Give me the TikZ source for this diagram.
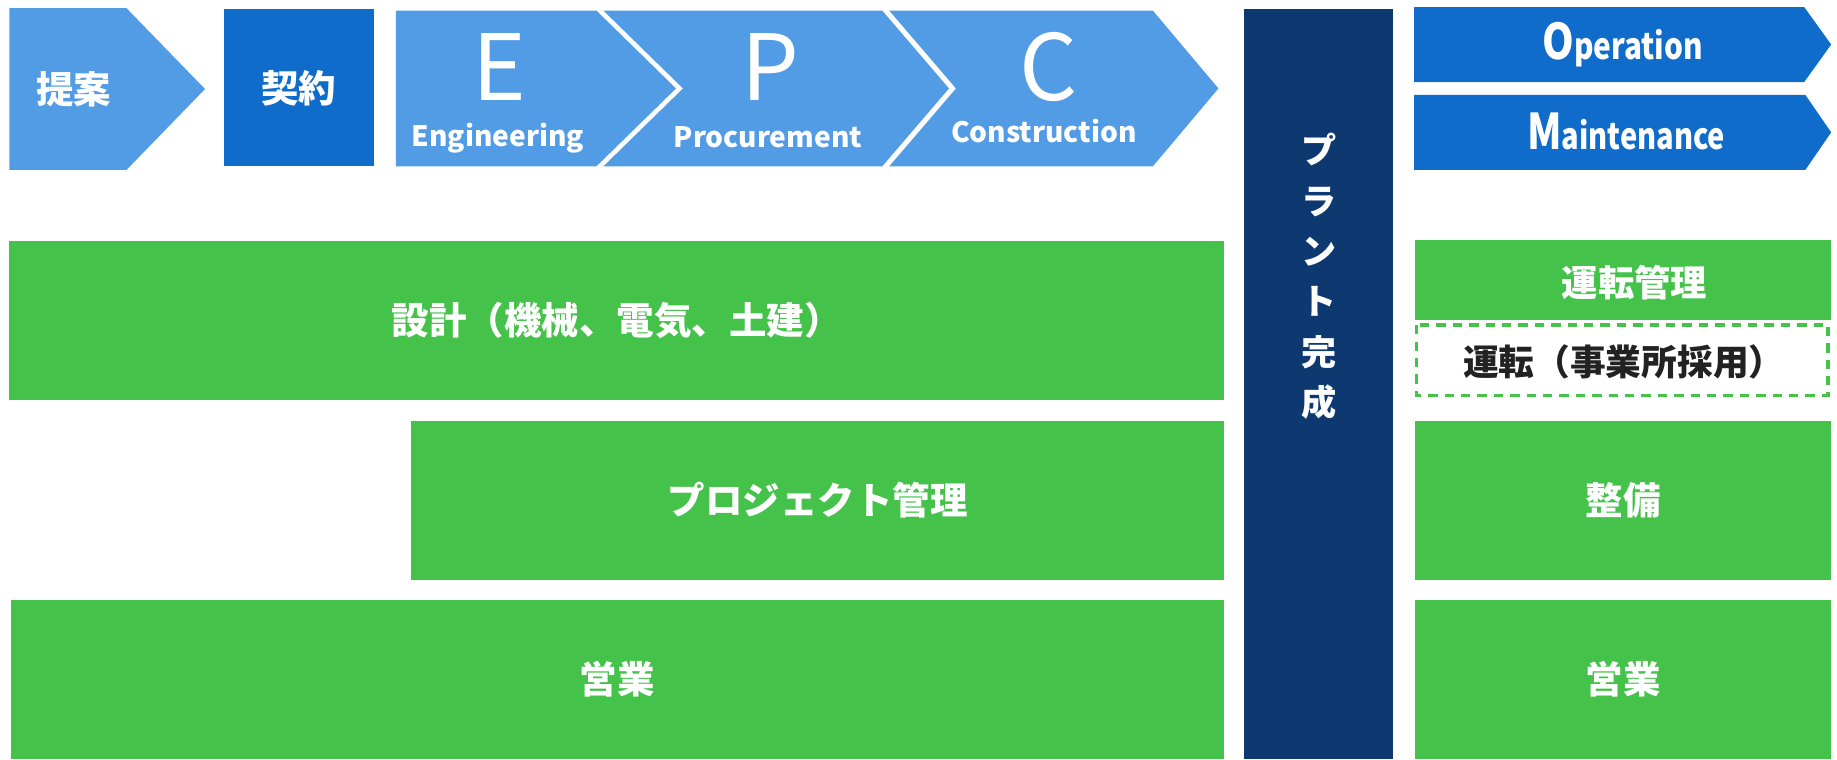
\documentclass[tikz,border=0pt]{standalone}
\usepackage{fontspec}
\setmainfont{Noto Sans CJK JP}

\definecolor{skyblue}{HTML}{529CE6}
\definecolor{midblue}{HTML}{0F6CCA}
\definecolor{navy}{HTML}{0E3870}
\definecolor{leaf}{HTML}{44C24A}
\definecolor{ink}{HTML}{222222}

\begin{document}
\begin{tikzpicture}[x=1pt,y=-1pt,
    lbl/.style={text=white, inner sep=0pt, font=\fontsize{32}{36}\selectfont\bfseries},
    gbox/.style={fill=leaf, inner sep=0pt, outer sep=0pt, lbl},
    big/.style={text=white, inner sep=0pt, anchor=base, font=\fontsize{78}{78}\selectfont},
    word/.style={text=white, inner sep=0pt, anchor=base, font=\fontsize{24}{24}\selectfont\bfseries},
    om/.style={text=white, inner sep=0pt, anchor=base, font=\bfseries}]
    \useasboundingbox (0,0) rectangle (1568,648);

    % top row: proposal, contract, E-P-C
    \fill[skyblue] (8,7) -- (108,7) -- (175,76) -- (108,145) -- (8,145) -- cycle;
    \node[lbl] at (63,76) (teian) {提案};
    \node[fill=midblue, minimum width=128pt, minimum height=134pt, inner sep=0pt, lbl] at (255,75) (keiyaku) {契約};
    \fill[skyblue] (338,9) -- (509,9) -- (577,75.5) -- (509,142) -- (338,142) -- cycle;
    \fill[skyblue] (515,9) -- (753,9) -- (810,75.5) -- (753,142) -- (515,142) -- (583,75.5) -- cycle;
    \fill[skyblue] (759,9) -- (984,9) -- (1040,75.5) -- (984,142) -- (759,142) -- (816,75.5) -- cycle;
    \node[big] at (426,86) (E) {E};
    \node[word] at (425,125) (eng) {Engineering};
    \node[big] at (658,86) (P) {P};
    \node[word] at (655.5,126) (proc) {Procurement};
    \node[big] at (895.5,86) (C) {C};
    \node[word] at (891,121.5) (cons) {Construction};

    % plant completion
    \fill[navy] (1062,8) rectangle (1189,648);
    \node[text=white, inner sep=0pt, align=center, font=\fontsize{30}{43}\selectfont\bfseries] at (1125.5,236) (kansei) {プ\\ラ\\ン\\ト\\完\\成};

    % O & M
    \fill[midblue] (1207,6) -- (1540,6) -- (1563,38) -- (1540,70) -- (1207,70) -- cycle;
    \fill[midblue] (1207,81) -- (1541,81) -- (1563,113) -- (1541,145) -- (1207,145) -- cycle;
    \node[om] at (1385,51) (oper) {\scalebox{0.82}[1]{{\fontsize{42}{42}\selectfont O}{\fontsize{31}{31}\selectfont peration}}};
    \node[om] at (1388,128) (maint) {\scalebox{0.8}[1]{{\fontsize{42}{42}\selectfont M}{\fontsize{31}{31}\selectfont aintenance}}};

    % left side work
    \node[gbox, minimum width=1037pt, minimum height=135pt] at (526.5,273.5) (sekkei) {設計（機械、電気、土建）};
    \node[gbox, minimum width=694pt, minimum height=136pt] at (698,427) (pm) {プロジェクト管理};
    \node[gbox, minimum width=1036pt, minimum height=136pt] at (527,580) (eigyoL) {営業};

    % right side work
    \node[fill=leaf, minimum width=355pt, minimum height=68pt, inner sep=0pt] at (1385.5,239) (untenkanri) {};
    \node[lbl, font=\fontsize{31}{36}\selectfont\bfseries] at (1395,241) (kanri) {運転管理};
    \draw[leaf, line width=3pt, dash pattern=on 8pt off 6pt] (1209,277.5) rectangle (1560.5,337.5);
    \node[lbl, text=ink, font=\fontsize{30.5}{36}\selectfont\bfseries] at (1386,309) (unten) {運転（事業所採用）};
    \node[gbox, minimum width=355pt, minimum height=136pt] at (1385.5,427) (seibi) {整備};
    \node[gbox, minimum width=355pt, minimum height=136pt] at (1385.5,580) (eigyoR) {営業};
\end{tikzpicture}
\end{document}
